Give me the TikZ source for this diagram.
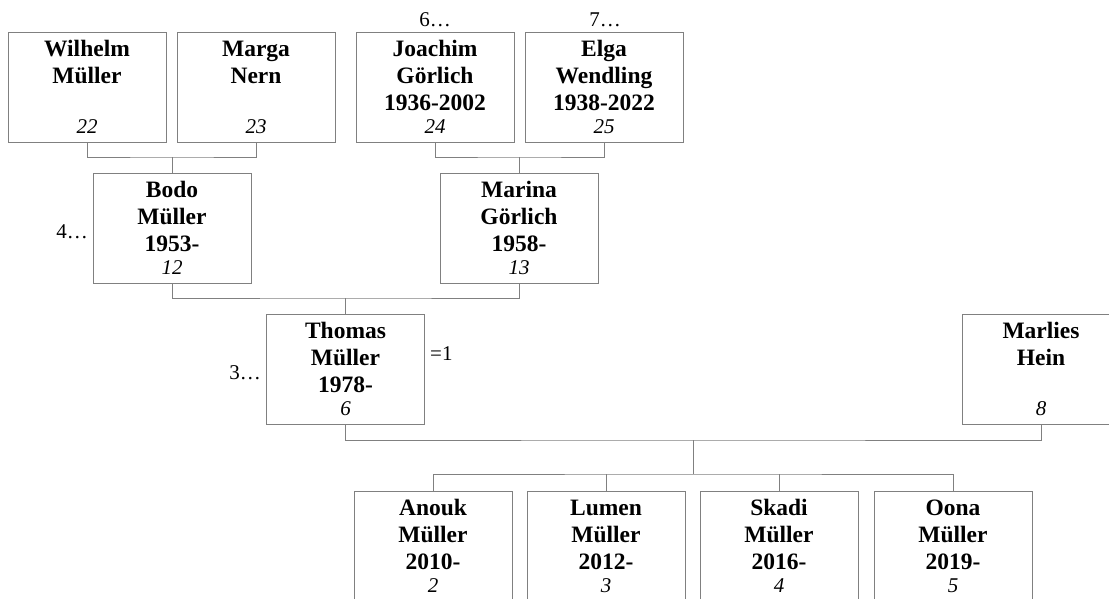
\documentclass[tikz,border=0pt]{standalone}
\usepackage{fontspec}
\setmainfont{Liberation Serif}
\definecolor{linegray}{RGB}{128,128,128}
\newcommand\personbox[5]{%
  \node[pbox] (#1) at (#2,#3+55) {};
  \node[ptext] (#1-t) at (#2,#3+24) {\begin{tabular}[t]{@{}c@{}}#4\end{tabular}};
  \node[pnum] (#1-n) at (#2,#3+101) {#5};
}
\begin{document}
\begin{tikzpicture}[x=1pt,y=-1pt,
  pbox/.style={draw=linegray, line width=1pt, minimum width=158pt, minimum height=110pt, inner sep=0pt},
  ptext/.style={anchor=base, inner sep=0pt, font=\fontsize{23.5}{27}\selectfont\bfseries},
  pnum/.style={anchor=base, inner sep=0pt, font=\fontsize{21}{24}\selectfont\itshape},
  side/.style={inner sep=0pt, font=\fontsize{21}{24}\selectfont},
  conn/.style={draw=linegray, line width=1pt}]
\path[use as bounding box, clip] (0,0) rectangle (1109,598);
% generation 1
\personbox{wil}{87}{32}{Wilhelm\\Müller}{22}
\personbox{marga}{256}{32}{Marga\\Nern}{23}
\personbox{joa}{435}{32}{Joachim\\Görlich\\1936-2002}{24}
\personbox{elga}{604}{32}{Elga\\Wendling\\1938-2022}{25}
% generation 2
\personbox{bodo}{172}{173}{Bodo\\Müller\\1953-}{12}
\personbox{marina}{519}{173}{Marina\\Görlich\\1958-}{13}
% generation 3
\personbox{thomas}{345.5}{314}{Thomas\\Müller\\1978-}{6}
\personbox{marlies}{1041}{314}{Marlies\\Hein}{8}
% children
\personbox{anouk}{433}{491}{Anouk\\Müller\\2010-}{2}
\personbox{lumen}{606}{491}{Lumen\\Müller\\2012-}{3}
\personbox{skadi}{779}{491}{Skadi\\Müller\\2016-}{4}
\personbox{oona}{953}{491}{Oona\\Müller\\2019-}{5}
% side labels
\node[side, anchor=base] (l6) at (435,26) {6…};
\node[side, anchor=base] (l7) at (605,26) {7…};
\node[side, anchor=base east] (l4) at (88,238) {4…};
\node[side, anchor=base east] (l3) at (261,379) {3…};
\node[side, anchor=base west] (l1) at (430,360) {=1};
% connectors
\coordinate (j1) at (bodo.north |- 0,157);
\coordinate (j2) at (marina.north |- 0,157);
\coordinate (j3) at (thomas.north |- 0,298);
\coordinate (j4) at (693,440);
\coordinate (k) at (693,474);
\draw[conn] (wil.south) |- (j1) -| (marga.south);
\draw[conn] (j1) -- (bodo.north);
\draw[conn] (joa.south) |- (j2) -| (elga.south);
\draw[conn] (j2) -- (marina.north);
\draw[conn] (bodo.south) |- (j3) -| (marina.south);
\draw[conn] (j3) -- (thomas.north);
\draw[conn] (thomas.south) |- (j4) -| (marlies.south);
\draw[conn] (j4) -- (k);
\draw[conn] (anouk.north) |- (k) -| (oona.north);
\draw[conn] (lumen.north) -- (lumen.north |- k);
\draw[conn] (skadi.north) -- (skadi.north |- k);
\end{tikzpicture}
\end{document}
